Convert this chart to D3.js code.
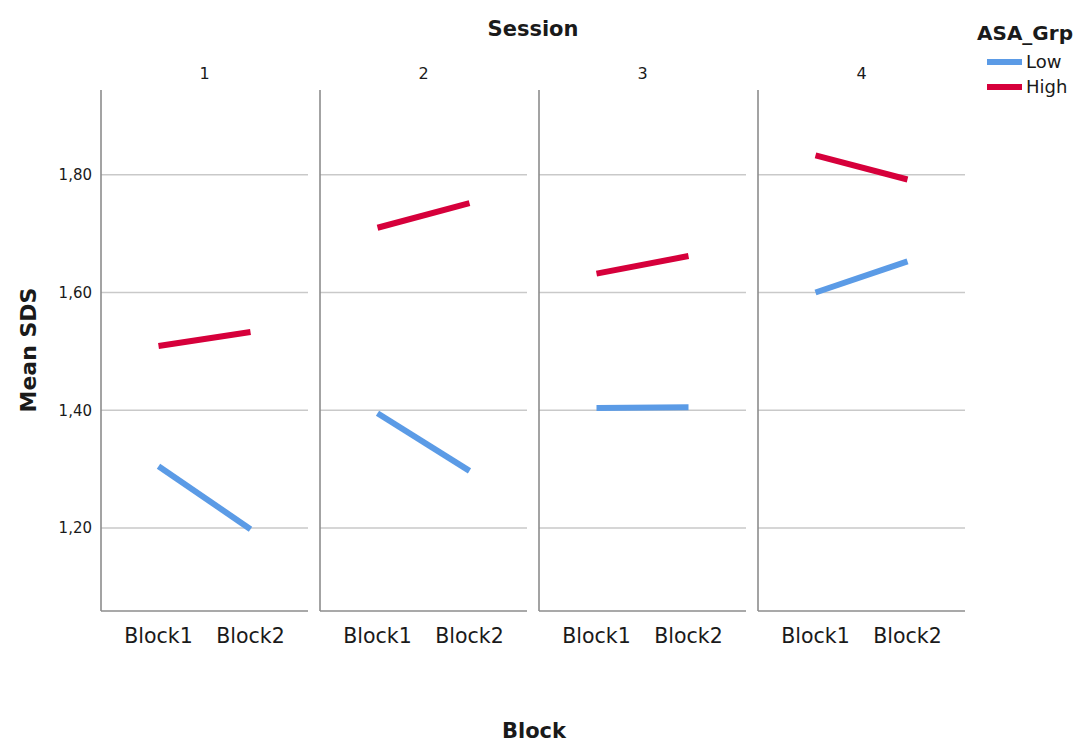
<!DOCTYPE html>
<html lang="en">
<head>
<meta charset="UTF-8">
<title>Mean SDS</title>
<script src="https://cdn.jsdelivr.net/npm/d3@7"></script>
<style>
  body { margin: 0; background: #fff; }
  text { font-family: "DejaVu Sans", sans-serif; fill: #1a1a1a; }
</style>
</head>
<body>
<script>
    const sessions = ["1", "2", "3", "4"];
    const blocks = ["Block1", "Block2"];
    const groups = ["Low", "High"];
    const groupColors = ["#5b9be6", "#d6003b"];
    const yTicks = [1.20, 1.40, 1.60, 1.80];

    // mean SDS per session, [Block1, Block2]
    const lowValues = [[1.305, 1.198], [1.395, 1.297], [1.404, 1.405], [1.600, 1.653]];
    const highValues = [[1.509, 1.533], [1.710, 1.752], [1.632, 1.662], [1.833, 1.792]];

    const width = 1090, height = 744;
    const margin = {top: 90, left: 101, bottom: 611};
    const panelW = 207, gap = 12;

    const svg = d3.select("body").append("svg")
        .attr("width", width)
        .attr("height", height);

    const y = d3.scaleLinear()
        .domain([1.059, 1.944])
        .range([margin.bottom, margin.top]);

    const panel = d3.scaleBand()
        .domain(sessions)
        .range([margin.left, margin.left + sessions.length * panelW + (sessions.length - 1) * gap])
        .paddingInner(gap / (panelW + gap));

    const x = d3.scalePoint()
        .domain(blocks)
        .range([0, panelW])
        .padding(0.625);

    const color = d3.scaleOrdinal().domain(groups).range(groupColors);

    const line = d3.line()
        .x(d => x(d.block))
        .y(d => y(d.value));

    sessions.forEach((s, i) => {
        const g = svg.append("g").attr("transform", `translate(${panel(s)},0)`);

        // gridlines
        g.append("g").selectAll("line")
            .data(yTicks)
            .join("line")
            .attr("x1", 0).attr("x2", panelW)
            .attr("y1", d => y(d)).attr("y2", d => y(d))
            .attr("stroke", "#c9c9c9")
            .attr("stroke-width", 1.3);

        // left axis + bottom axis line
        g.append("line")
            .attr("x1", 0).attr("x2", 0)
            .attr("y1", margin.top).attr("y2", margin.bottom)
            .attr("stroke", "#8c8c8c").attr("stroke-width", 1.6);
        g.append("line")
            .attr("x1", 0).attr("x2", panelW)
            .attr("y1", margin.bottom).attr("y2", margin.bottom)
            .attr("stroke", "#8c8c8c").attr("stroke-width", 1.6);

        // series
        const series = [
            {grp: "Low", pts: blocks.map((b, j) => ({block: b, value: lowValues[i][j]}))},
            {grp: "High", pts: blocks.map((b, j) => ({block: b, value: highValues[i][j]}))}
        ];
        g.selectAll("path.series")
            .data(series)
            .join("path")
            .attr("class", "series")
            .attr("d", d => line(d.pts))
            .attr("fill", "none")
            .attr("stroke", d => color(d.grp))
            .attr("stroke-width", 6);

        // block labels
        g.selectAll("text.blk")
            .data(blocks)
            .join("text")
            .attr("class", "blk")
            .attr("x", d => x(d))
            .attr("y", 643)
            .attr("text-anchor", "middle")
            .attr("font-size", 20.5)
            .text(d => d);

        // session label
        g.append("text")
            .attr("x", panelW / 2 + 0)
            .attr("y", 79)
            .attr("text-anchor", "middle")
            .attr("font-size", 16)
            .text(s);
    });

    // y tick labels
    svg.append("g").selectAll("text")
        .data(yTicks)
        .join("text")
        .attr("x", 92)
        .attr("y", d => y(d))
        .attr("dy", "0.35em")
        .attr("text-anchor", "end")
        .attr("font-size", 15)
        .text(d => d3.format(".2f")(d).replace(".", ","));

    // titles
    svg.append("text")
        .attr("x", 533).attr("y", 36)
        .attr("text-anchor", "middle")
        .attr("font-size", 21).attr("font-weight", "bold")
        .text("Session");

    svg.append("text")
        .attr("x", 534).attr("y", 738)
        .attr("text-anchor", "middle")
        .attr("font-size", 21).attr("font-weight", "bold")
        .text("Block");

    svg.append("text")
        .attr("transform", `translate(36,350) rotate(-90)`)
        .attr("text-anchor", "middle")
        .attr("font-size", 22).attr("font-weight", "bold")
        .text("Mean SDS");

    // legend
    const legend = svg.append("g").attr("transform", "translate(977,0)");
    legend.append("text")
        .attr("x", 0).attr("y", 40)
        .attr("font-size", 20).attr("font-weight", "bold")
        .text("ASA_Grp");
    const li = legend.selectAll("g.item")
        .data(groups)
        .join("g")
        .attr("class", "item")
        .attr("transform", (d, i) => `translate(0,${62 + i * 25})`);
    li.append("line")
        .attr("x1", 10).attr("x2", 45)
        .attr("stroke", d => color(d))
        .attr("stroke-width", 6);
    li.append("text")
        .attr("x", 49)
        .attr("dy", "0.35em")
        .attr("font-size", 18)
        .text(d => d);
</script>
</body>
</html>
